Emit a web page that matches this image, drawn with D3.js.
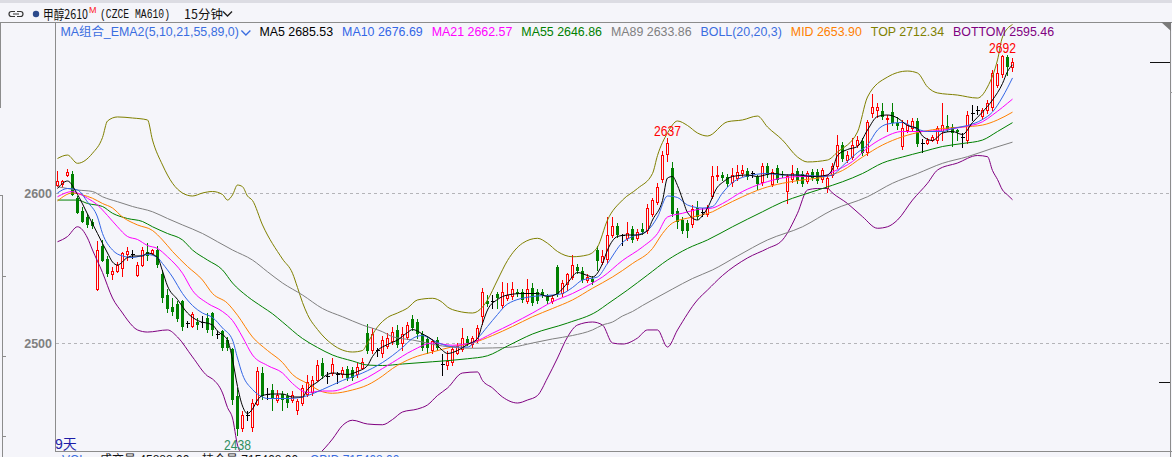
<!DOCTYPE html>
<html>
<head>
<meta charset="utf-8">
<script src="https://cdn.jsdelivr.net/npm/d3@7"></script>
<style>
html, body { margin: 0; padding: 0; background: #f5f5fa; overflow: hidden; }
svg { display: block; font-family: "Liberation Sans", Arial, "Noto Sans CJK SC", sans-serif; }
</style>
</head>
<body>
<svg id="chart" width="1172" height="457"></svg>
<script>
// 15 minute bars, oldest first
const open = [
  2605,2606,2612,2613,2597,2588,2584,2581,2536,2565,
  2556,2546,2548,2550,2559,2559,2545,2552,2561,2560,
  2562,2546,2532,2524,2526,2528,2513,2511,2514,2514,
  2517,2520,2506,2508,2502,2496,2465,2443,2452,2444,
  2459,2480,2466,2469,2462,2466,2465,2462,2455,2460,
  2466,2467,2475,2487,2478,2480,2479,2479,2483,2482,
  2479,2483,2507,2495,2495,2493,2498,2501,2509,2500,
  2504,2516,2514,2506,2503,2495,2502,2486,2485,2487,
  2493,2496,2503,2499,2502,2518,2528,2528,2533,2525,
  2530,2531,2534,2534,2528,2537,2534,2534,2531,2528,
  2551,2533,2539,2544,2551,2548,2542,2543,2562,2554,
  2556,2572,2578,2572,2570,2576,2570,2576,2575,2586,
  2594,2609,2626,2617,2588,2582,2580,2579,2590,2587,
  2586,2598,2611,2612,2611,2607,2610,2613,2615,2613,
  2611,2607,2618,2606,2617,2613,2601,2609,2615,2613,
  2608,2614,2614,2609,2603,2612,2618,2632,2622,2624,
  2632,2635,2627,2653,2655,2655,2649,2654,2647,2631,
  2642,2643,2648,2633,2633,2635,2635,2641,2645,2644,
  2642,2637,2635,2653,2655,2651,2655,2657,2672,2679,
  2691,2684
];
const high = [
  2615,2609,2616,2615,2598,2591,2586,2583,2568,2569,
  2558,2551,2554,2561,2564,2562,2554,2564,2567,2563,
  2565,2549,2536,2530,2528,2529,2515,2521,2517,2518,
  2520,2521,2508,2509,2504,2497,2470,2455,2455,2463,
  2484,2484,2470,2473,2469,2468,2467,2468,2463,2472,
  2479,2478,2489,2490,2481,2490,2481,2484,2485,2484,
  2487,2490,2513,2510,2497,2505,2507,2511,2512,2511,
  2514,2519,2516,2508,2505,2503,2504,2493,2495,2498,
  2500,2510,2505,2505,2512,2537,2532,2532,2534,2541,
  2540,2541,2536,2536,2543,2540,2536,2536,2533,2532,
  2552,2542,2547,2559,2553,2551,2546,2545,2565,2562,
  2584,2584,2580,2573,2581,2578,2576,2580,2593,2597,
  2607,2628,2637,2621,2590,2584,2582,2592,2595,2590,
  2592,2618,2618,2614,2613,2617,2619,2619,2617,2615,
  2612,2620,2620,2616,2619,2615,2613,2619,2617,2615,
  2615,2616,2616,2617,2612,2620,2639,2634,2628,2637,
  2638,2637,2649,2666,2660,2660,2652,2660,2651,2649,
  2649,2650,2650,2636,2637,2639,2645,2660,2652,2646,
  2643,2640,2655,2659,2658,2657,2662,2682,2686,2692,
  2692,2690
];
const low = [
  2604,2604,2611,2598,2586,2580,2577,2576,2535,2554,
  2544,2542,2547,2544,2555,2556,2544,2551,2555,2559,
  2550,2527,2520,2518,2514,2508,2510,2510,2509,2510,
  2507,2505,2503,2495,2495,2459,2438,2441,2448,2441,
  2458,2462,2462,2455,2460,2455,2457,2460,2452,2458,
  2464,2465,2474,2476,2473,2478,2473,2477,2475,2475,
  2477,2482,2493,2493,2491,2490,2496,2499,2497,2495,
  2502,2508,2503,2495,2493,2493,2495,2478,2482,2485,
  2492,2494,2498,2497,2500,2512,2524,2523,2523,2523,
  2528,2529,2531,2527,2526,2525,2526,2530,2526,2526,
  2531,2531,2535,2542,2546,2540,2540,2539,2548,2552,
  2553,2570,2570,2565,2568,2567,2568,2572,2573,2584,
  2592,2607,2621,2584,2576,2573,2570,2577,2582,2584,
  2584,2596,2608,2608,2604,2604,2608,2611,2609,2610,
  2602,2605,2610,2604,2607,2610,2593,2607,2606,2604,
  2606,2608,2606,2607,2600,2610,2616,2621,2620,2622,
  2630,2625,2625,2650,2650,2649,2641,2645,2642,2629,
  2640,2641,2631,2627,2632,2634,2633,2635,2641,2631,
  2635,2630,2633,2648,2652,2649,2653,2655,2670,2677,
  2678,2681
];
const close = [
  2608,2608,2614,2599,2587,2581,2579,2578,2562,2555,
  2546,2548,2552,2560,2561,2559,2552,2562,2558,2562,
  2552,2530,2523,2521,2516,2511,2513,2519,2512,2514,
  2509,2509,2506,2497,2497,2462,2443,2452,2452,2460,
  2481,2465,2466,2463,2465,2462,2460,2465,2461,2470,
  2474,2475,2485,2478,2478,2486,2479,2482,2477,2477,
  2484,2487,2495,2506,2495,2502,2503,2507,2499,2506,
  2512,2510,2506,2497,2497,2501,2497,2486,2488,2496,
  2498,2503,2500,2503,2510,2534,2526,2528,2530,2534,
  2532,2536,2533,2529,2536,2527,2528,2532,2528,2530,
  2533,2540,2546,2552,2548,2542,2544,2541,2555,2558,
  2572,2578,2572,2572,2573,2569,2574,2574,2590,2595,
  2604,2625,2633,2586,2581,2575,2575,2589,2584,2587,
  2590,2611,2612,2610,2606,2612,2614,2615,2611,2613,
  2606,2618,2612,2614,2609,2612,2611,2613,2608,2606,
  2613,2610,2608,2615,2610,2618,2632,2623,2625,2632,
  2635,2627,2647,2657,2657,2651,2650,2647,2645,2643,
  2645,2648,2633,2633,2635,2637,2643,2645,2643,2640,
  2641,2637,2652,2653,2655,2655,2660,2680,2680,2691,
  2684,2687
];

// indicator lines as [bar, value]
const ma5 = [[0,2603],[2,2608],[4,2599],[6,2586],[8,2573],[10,2560],[11,2554],[12,2552],[14,2557],[15,2558],[17,2558],[18,2560],[20,2557],[21,2548],[22,2538],[24,2529],[26,2520],[28,2515],[31,2512],[32,2508],[34,2502],[35,2489],[36,2471],[37,2458],[38,2453],[39,2456],[40,2462],[41,2465],[43,2466],[45,2466],[47,2464],[49,2464],[50,2469],[52,2474],[54,2479],[55,2480],[58,2479],[60,2481],[62,2485],[63,2491],[64,2495],[66,2499],[68,2502],[70,2507],[71,2509],[73,2506],[75,2502],[77,2495],[78,2493],[80,2495],[82,2499],[84,2503],[85,2513],[86,2522],[88,2529],[90,2532],[93,2533],[96,2533],[98,2531],[100,2533],[102,2540],[104,2547],[106,2545],[107,2544],[109,2553],[110,2562],[112,2571],[114,2572],[116,2572],[118,2575],[119,2582],[121,2595],[122,2610],[123,2611],[124,2605],[125,2596],[126,2587],[128,2582],[129,2585],[130,2590],[132,2604],[133,2607],[135,2611],[138,2612],[140,2611],[143,2613],[146,2612],[148,2612],[151,2611],[154,2612],[155,2616],[156,2625],[158,2629],[160,2631],[162,2642],[164,2651],[166,2652],[168,2650],[170,2645],[172,2643],[173,2638],[175,2635],[177,2640],[179,2641],[181,2639],[183,2647],[185,2654],[187,2662],[189,2673],[190,2681],[191,2685.5]];
const ma10 = [[0,2600],[2,2603],[4,2602],[6,2594],[8,2584],[9,2573],[11,2562],[13,2558],[15,2557],[18,2559],[20,2557],[21,2553],[23,2544],[25,2533],[27,2525],[29,2520],[31,2517],[33,2510],[35,2502],[36,2490],[37,2479],[39,2469],[41,2464],[42,2463],[46,2463],[49,2464],[53,2469],[57,2475],[61,2480],[65,2487],[69,2497],[71,2503],[73,2505],[75,2502],[77,2499],[80,2497.3],[82,2497.3],[84,2503],[86,2511],[88,2519],[90,2526],[95,2531],[99,2532],[101,2533],[103,2537],[105,2542],[108,2544],[110,2553],[113,2567],[115,2571],[118,2575],[120,2584],[122,2598],[124,2597],[126,2592],[129,2590],[131,2591],[133,2600],[135,2607],[139,2612],[142,2613],[145,2612],[149,2612],[153,2611],[155,2612],[157,2618],[160,2627],[162,2632],[164,2642],[166,2646],[169,2647],[171,2644],[174,2641],[177,2641],[179,2643],[182,2645],[185,2649],[187,2654],[189,2664],[191,2676.7]];
const ma21 = [[0,2597.5],[3,2601],[4,2600],[6,2596.5],[8,2592],[10,2585],[12,2577.5],[14,2571],[16,2569],[18,2565],[20,2563],[22,2557.5],[25,2546.5],[27,2535],[30,2526.5],[33,2521],[35,2515],[37,2504],[39,2492],[42,2485],[45,2480],[47,2473],[50,2467],[53,2468],[55,2468],[59,2472.5],[62,2477],[65,2483],[67,2487],[71,2495],[75,2500],[79,2498.5],[83,2500.3],[87,2506.5],[91,2513],[95,2520],[99,2527.5],[103,2533],[107,2540],[109,2544],[113,2555],[117,2564],[120,2573],[122,2584],[125,2586.5],[128,2589],[131,2590],[133,2593],[137,2601],[141,2606.5],[145,2610],[149,2611],[153,2611],[155,2614],[159,2621],[162,2630],[165,2636.5],[169,2641],[173,2641],[177,2642],[181,2644],[185,2647.5],[187,2652],[191,2662.6]];
const ma55 = [[0,2595.3],[4,2595.3],[6,2593],[9,2591],[11,2586.5],[14,2583],[17,2581],[19,2577.5],[22,2573],[25,2568.7],[27,2562],[30,2555.3],[33,2548.7],[35,2540],[38,2531],[41,2524],[43,2519.5],[45,2514],[49,2503],[52,2497],[55,2492],[59,2488],[62,2485.3],[65,2485],[69,2486],[75,2487.5],[82,2489.5],[86,2491.5],[90,2498],[95,2506],[102,2513.3],[108,2521.3],[110,2526],[114,2535.3],[118,2545.3],[122,2555.3],[126,2563],[130,2568.7],[135,2577.5],[141,2587.5],[145,2594],[149,2598.7],[153,2603],[157,2607.5],[161,2613],[165,2620],[169,2624],[173,2627.5],[177,2631],[181,2633],[185,2635.3],[188,2641],[191,2646.9]];
const ma89 = [[0,2604.2],[4,2602],[7,2601],[9,2597.5],[12,2594.2],[15,2591],[19,2587.5],[22,2583],[25,2578.7],[29,2573],[32,2567.5],[35,2562],[39,2555.3],[42,2547.5],[45,2540],[49,2532],[53,2523],[57,2517.5],[61,2512],[65,2507.5],[67,2504.2],[71,2502],[77,2498],[83,2496.5],[87,2496.7],[91,2497.3],[95,2500],[99,2502.7],[103,2505],[107,2508.7],[109,2512],[111,2514],[113,2518],[115,2521],[117,2525],[119,2528.7],[123,2536],[127,2543],[131,2548.7],[136,2558],[142,2568.7],[149,2577.5],[155,2588.7],[162,2597.5],[167,2606.5],[172,2613],[177,2619.8],[182,2624.2],[187,2629.8],[191,2633.9]];
const bollMid = [[0,2594.7],[3,2600],[5,2598.7],[7,2596.5],[9,2593],[11,2590],[13,2584],[16,2578.7],[19,2575],[21,2568.7],[23,2561],[26,2551],[29,2542],[31,2533],[34,2526.5],[36,2518.5],[39,2504],[42,2495],[45,2487],[47,2479],[50,2473],[53,2467.5],[55,2466.5],[59,2468.7],[62,2472],[65,2478],[67,2483],[71,2490],[75,2494],[79,2497.5],[83,2500],[87,2505],[91,2511],[95,2517.5],[99,2523],[103,2528.7],[107,2536.5],[111,2544],[115,2553],[119,2563],[121,2573],[123,2580],[127,2584],[131,2587.5],[133,2591],[137,2597.5],[141,2603],[145,2606.5],[149,2608.7],[153,2610.5],[157,2615],[161,2624],[165,2632],[169,2637.5],[173,2641],[177,2643],[181,2644],[185,2645.3],[188,2648.7],[191,2653.9]];
const bollTop = [[0,2623],[2,2625.3],[4,2619.8],[7,2626.5],[9,2637],[10,2648],[12,2650.7],[15,2650],[18,2648.7],[19,2635.3],[21,2618.7],[23,2606.5],[25,2600],[27,2598],[29,2600],[31,2601],[33,2599],[34,2595.3],[35,2598.7],[36,2605.3],[37,2604.2],[38,2598],[39,2595],[41,2578.7],[45,2556],[47,2546.5],[48,2537],[49,2527],[50,2519],[52,2509],[55,2499],[59,2494],[61,2495],[62,2500],[64,2510.7],[66,2517],[68,2520],[70,2523.3],[72,2528.7],[75,2529.8],[77,2527],[78,2524],[80,2521.3],[83,2520],[85,2524],[86,2528.7],[88,2542],[90,2555],[93,2566.5],[96,2569.8],[98,2566.5],[100,2561],[103,2557.5],[106,2558.7],[108,2564],[110,2582],[113,2595.3],[116,2603],[119,2613],[120,2625],[122,2640],[124,2648],[126,2645],[128,2640],[130,2638],[134,2647.5],[137,2648.7],[140,2651.3],[142,2644],[145,2635.3],[148,2624],[150,2620.7],[154,2622],[156,2627.3],[160,2640.7],[162,2664],[166,2677.3],[170,2681.3],[172,2680],[174,2670.7],[176,2666.7],[180,2665.3],[184,2663.3],[186,2670.7],[188,2688.7],[189,2704],[191,2712.3]];
const bollBottom = [[0,2567.5],[2,2571],[4,2577.5],[6,2570],[7,2562],[9,2547],[11,2530],[13,2520],[14,2515.3],[16,2508.7],[18,2507.3],[22,2508.7],[24,2504],[27,2490.7],[30,2478],[31,2476],[33,2466.7],[34,2457],[35,2450],[36,2432],[37,2425],[38,2422],[41,2417],[45,2418],[47,2412],[49,2418],[52,2425],[55,2436],[57,2445],[59,2448.5],[62,2446],[65,2445.5],[67,2449],[69,2454],[72,2456],[74,2458.7],[76,2465],[78,2470],[81,2480],[84,2480.7],[85,2475],[87,2470],[89,2464],[92,2460],[94,2462],[96,2465],[98,2476.7],[100,2490],[102,2504],[104,2512],[107,2514],[109,2512],[111,2500],[113,2499.3],[116,2503.3],[118,2508.7],[120,2508.7],[122,2497.3],[124,2508.7],[128,2528.7],[130,2535.3],[133,2545],[138,2556.7],[142,2563],[145,2568.7],[148,2586.5],[150,2602],[152,2603],[154,2603],[155,2600],[158,2593],[161,2584.2],[164,2576.5],[166,2577.5],[168,2582],[171,2595.3],[174,2606.5],[176,2615.3],[180,2620],[184,2625],[186,2624.2],[187,2615],[188,2609],[189,2602],[190,2598.7],[191,2595.5]];

const priceTicks = [2500, 2600];
const maNames = ["MA5", "MA10", "MA21", "MA55", "MA89"];
const maLast = [2685.53, 2676.69, 2662.57, 2646.86, 2633.86];
const bollNames = ["MID", "TOP", "BOTTOM"];
const bollLast = [2653.90, 2712.34, 2595.46];
const extremes = [{bar: 122, kind: "high"}, {bar: 189, kind: "high"}, {bar: 36, kind: "low"}];

const W = 1172, H = 457;
const bg = "#f5f5fa";
const svg = d3.select("#chart");

const x = d3.scaleLinear().domain([0, close.length - 1]).range([57.5, 1012.5]);
const y = d3.scaleLinear().domain([2500, 2600]).range([343, 193]);

svg.append("rect").attr("width", W).attr("height", H).attr("fill", bg);
svg.append("rect").attr("width", W).attr("height", 3).attr("fill", "#dcdce3");

svg.append("defs").append("clipPath").attr("id", "plotClip")
  .append("rect").attr("x", 56).attr("y", 23).attr("width", 1114).attr("height", 428);

// frame
const frame = svg.append("g").attr("stroke", "#8c8c8c").attr("fill", "none").attr("shape-rendering", "crispEdges");
frame.append("path").attr("d", "M0,22.5H1172M55.5,22.5V451.5M55.5,451.5H1172M1170.5,22.5V457");
frame.append("path").attr("d", "M0.5,22.5V107.5H0M0,195.5H2.5V457M2.5,276.5H6M2.5,356.5H6M2.5,436.5H6");
svg.append("path").attr("d", "M1161,22L1171,22L1171,31Z").attr("fill", "#7a7a7a");
svg.append("path").attr("d", "M1150,62.5H1170M1159,382.5H1170").attr("stroke", "#111").attr("shape-rendering", "crispEdges");
svg.append("path").attr("d", "M1170,92.5H1172").attr("stroke", "#999").attr("shape-rendering", "crispEdges");

// grid + price labels
svg.append("g").selectAll("line").data(priceTicks).join("line")
  .attr("x1", 56).attr("x2", 1170)
  .attr("y1", d => Math.round(y(d)) + 0.5).attr("y2", d => Math.round(y(d)) + 0.5)
  .attr("stroke", "#b4b4b8").attr("stroke-dasharray", "3,3").attr("shape-rendering", "crispEdges");

const yAxis = d3.axisLeft(y).tickValues(priceTicks).tickSize(0).tickPadding(3).tickFormat(d3.format("d"));
const ga = svg.append("g").attr("transform", "translate(55,0)").call(yAxis);
ga.select(".domain").remove();
ga.selectAll("text").attr("fill", "#808080").attr("font-size", "12.5px").attr("font-weight", "bold")
  .attr("font-family", "'Liberation Sans', Arial, sans-serif");

// candles
const bars = d3.range(close.length).map(i => ({i, o: open[i], h: high[i], l: low[i], c: close[i]}));
const tone = d => d.c > d.o ? "#ff0000" : d.c < d.o ? "#008000" : "#000000";
const plot = svg.append("g").attr("clip-path", "url(#plotClip)");
const cg = plot.append("g").attr("shape-rendering", "crispEdges");

cg.selectAll(".wick").data(bars).join("line").attr("class", "wick")
  .attr("x1", d => x(d.i)).attr("x2", d => x(d.i))
  .attr("y1", d => y(d.h)).attr("y2", d => y(d.l))
  .attr("stroke", tone);

cg.selectAll(".up").data(bars.filter(d => d.c > d.o)).join("rect").attr("class", "up")
  .attr("x", d => x(d.i) - 1).attr("width", 2)
  .attr("y", d => y(d.c)).attr("height", d => Math.max(1, y(d.o) - y(d.c)))
  .attr("fill", bg).attr("stroke", "#ff0000");

cg.selectAll(".down").data(bars.filter(d => d.c < d.o)).join("rect").attr("class", "down")
  .attr("x", d => x(d.i) - 1.5).attr("width", 3)
  .attr("y", d => y(d.o)).attr("height", d => Math.max(1, y(d.c) - y(d.o)))
  .attr("fill", "#008000");

cg.selectAll(".doji").data(bars.filter(d => d.c === d.o)).join("line").attr("class", "doji")
  .attr("x1", d => x(d.i) - 2).attr("x2", d => x(d.i) + 2)
  .attr("y1", d => y(d.o)).attr("y2", d => y(d.o))
  .attr("stroke", "#000");

// indicator lines
const lineGen = d3.line().x(d => x(d[0])).y(d => y(d[1])).curve(d3.curveMonotoneX);
const series = [
  {pts: bollBottom, color: "#800080"},
  {pts: bollTop, color: "#808000"},
  {pts: ma89, color: "#808080"},
  {pts: ma55, color: "#008000"},
  {pts: bollMid, color: "#ff8000"},
  {pts: ma21, color: "#ff00ff"},
  {pts: ma10, color: "#3366e6"},
  {pts: ma5, color: "#000000"}
];
plot.append("g").selectAll("path").data(series).join("path")
  .attr("d", d => lineGen(d.pts)).attr("fill", "none")
  .attr("stroke", d => d.color).attr("stroke-width", 1);

// high / low marks
svg.append("g").selectAll("text").data(extremes).join("text")
  .attr("x", d => x(d.bar)).attr("text-anchor", "middle")
  .attr("y", d => d.kind === "high" ? y(high[d.bar]) - 2 : y(low[d.bar]) + 14)
  .attr("fill", d => d.kind === "high" ? "#ff0000" : "#2f8f5f")
  .attr("font-size", "14px").attr("textLength", 27).attr("lengthAdjust", "spacingAndGlyphs")
  .text(d => d.kind === "high" ? high[d.bar] : low[d.bar]);

svg.append("text").attr("x", 55).attr("y", 449).attr("fill", "#1c1ca8").attr("font-size", "14px")
  .attr("font-family", "'Liberation Sans', 'Noto Sans CJK SC', sans-serif").text("9天");

// title row
const head = svg.append("g");
head.append("path").attr("d", "M15,11.5H11.5A2.5,2.5 0 0 0 11.5,16.5H15M17,11.5H20.5A2.5,2.5 0 0 1 20.5,16.5H17M13,14H19")
  .attr("fill", "none").attr("stroke", "#333").attr("stroke-width", 1.2);
head.append("circle").attr("cx", 36).attr("cy", 14).attr("r", 3.2).attr("fill", "#2c4a8c");
const name = head.append("text").attr("x", 43).attr("y", 18.5).attr("font-size", "13px").attr("fill", "#111")
  .attr("font-family", "'Noto Sans CJK SC', sans-serif");
name.append("tspan").attr("textLength", 45).attr("lengthAdjust", "spacingAndGlyphs").text("甲醇2610");
name.append("tspan").attr("x", 89).attr("y", 13).attr("font-size", "9px").attr("fill", "#ff2020")
  .attr("font-family", "'Liberation Sans', sans-serif").text("M");
head.append("text").attr("x", 100).attr("y", 18).attr("font-size", "12px").attr("fill", "#111")
  .attr("font-family", "'Liberation Mono', monospace").attr("textLength", 70).attr("lengthAdjust", "spacingAndGlyphs")
  .text("(CZCE MA610)");
head.append("text").attr("x", 184).attr("y", 18.5).attr("font-size", "12.5px").attr("fill", "#111")
  .attr("font-family", "'Noto Sans CJK SC', sans-serif").text("15分钟");
head.append("path").attr("d", "M223,11.5L227.5,16L232,11.5").attr("fill", "none").attr("stroke", "#222").attr("stroke-width", 1.4);

// legend row
const legend = svg.append("g").attr("font-size", "12.4px");
let lx = 60.5;
const addItem = (txt, color, gap) => {
  const t = legend.append("text").attr("x", lx).attr("y", 36).attr("fill", color).text(txt);
  lx += t.node().getComputedTextLength() + gap;
};
addItem("MA组合_EMA2(5,10,21,55,89,0)", "#3a6de0", 2.5);
legend.append("path").attr("d", `M${lx},30.5L${lx + 4.5},35L${lx + 9},30.5`).attr("fill", "none")
  .attr("stroke", "#3a6de0").attr("stroke-width", 1.3);
lx += 18;
const maColors = ["#000000", "#3366e6", "#ff00ff", "#008000", "#808080"];
maNames.forEach((n, k) => addItem(`${n} ${maLast[k].toFixed(2)}`, maColors[k], 9));
addItem("BOLL(20,20,3)", "#3a6de0", 9);
const bollColors = ["#ff8000", "#808000", "#800080"];
bollNames.forEach((n, k) => addItem(`${n} ${bollLast[k].toFixed(2)}`, bollColors[k], 9));

// volume panel below, only its top edge shows
const foot = svg.append("g").attr("font-size", "12px").attr("font-family", "'Liberation Sans', 'Noto Sans CJK SC', sans-serif");
foot.append("text").attr("x", 62).attr("y", 464).attr("fill", "#3a6de0").text("VOL");
foot.append("text").attr("x", 100).attr("y", 464).attr("fill", "#111").text("成交量 45888.00");
foot.append("text").attr("x", 202).attr("y", 464).attr("fill", "#111").text("持仓量 715468.00");
foot.append("text").attr("x", 310).attr("y", 464).attr("fill", "#3a6de0").text("OPID 715468.00");
</script>
</body>
</html>
